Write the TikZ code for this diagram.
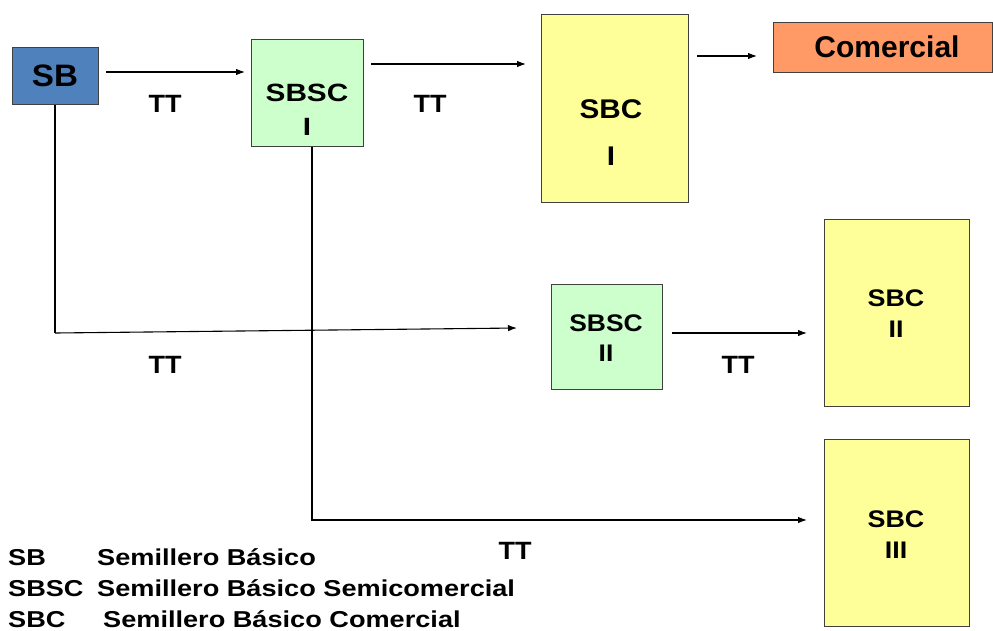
\documentclass[tikz,border=0pt]{standalone}
\usepackage{fontspec}
\usepackage{graphicx}
\setmainfont{Liberation Sans}
\usetikzlibrary{arrows.meta}
\definecolor{sbblue}{HTML}{4F81BD}
\definecolor{sbgreen}{HTML}{CCFFCC}
\definecolor{sbyellow}{HTML}{FFFF99}
\definecolor{sborange}{HTML}{FF9966}
\newcommand{\hsc}[2]{\scalebox{#1}[1]{#2}}
\tikzset{
  box/.style={draw=black!75, line width=0.9pt, inner sep=0pt, anchor=north west},
  lbl/.style={font=\bfseries\fontsize{#1}{#1}\selectfont, inner sep=0pt},
  arr/.style={-{Latex[length=9pt,width=6.5pt]}, line width=1.1pt},
  ln/.style={line width=1.1pt},
  leg/.style={font=\bfseries\fontsize{23}{23}\selectfont, inner sep=0pt, anchor=base west}
}
\begin{document}
\begin{tikzpicture}[x=1pt,y=-1pt]
\useasboundingbox (0,0) rectangle (993,630);
% boxes
\node[box, fill=sbblue, minimum width=86pt, minimum height=57pt] (sb) at (12,47) {};
\node[box, fill=sbgreen, minimum width=112pt, minimum height=107pt] (sbsc1) at (251,39) {};
\node[box, fill=sbyellow, minimum width=147pt, minimum height=188pt] (sbc1) at (541,14) {};
\node[box, fill=sborange, minimum width=219pt, minimum height=50pt] (com) at (773,22) {};
\node[box, fill=sbgreen, minimum width=111pt, minimum height=105pt] (sbsc2) at (551,284) {};
\node[box, fill=sbyellow, minimum width=145pt, minimum height=187pt] (sbc2) at (824,219) {};
\node[box, fill=sbyellow, minimum width=145pt, minimum height=187pt] (sbc3) at (824,439) {};
% box texts
\node[lbl=31] (tsb) at (55,76) {\hsc{1.07}{SB}};
\node[lbl=25] (tsbsc1a) at (307,93) {\hsc{1.19}{SBSC}};
\node[lbl=25] (tsbsc1b) at (307,127) {\hsc{1.19}{I}};
\node[lbl=27] (tsbc1a) at (611,109) {\hsc{1.1}{SBC}};
\node[lbl=27] (tsbc1b) at (611,156) {\hsc{1.1}{I}};
\node[lbl=30] (tcom) at (887,47) {Comercial};
\node[lbl=24] (tsbsc2a) at (606,323) {\hsc{1.1}{SBSC}};
\node[lbl=24] (tsbsc2b) at (606,353) {\hsc{1.1}{II}};
\node[lbl=24] (tsbc2a) at (896,298) {\hsc{1.12}{SBC}};
\node[lbl=24] (tsbc2b) at (896,329) {\hsc{1.12}{II}};
\node[lbl=24] (tsbc3a) at (896,519) {\hsc{1.12}{SBC}};
\node[lbl=24] (tsbc3b) at (896,550) {\hsc{1.12}{III}};
% TT labels
\node[lbl=25] (tt1) at (165,104) {\hsc{1.08}{TT}};
\node[lbl=25] (tt2) at (430,104) {\hsc{1.08}{TT}};
\node[lbl=25] (tt3) at (165,365) {\hsc{1.08}{TT}};
\node[lbl=25] (tt4) at (738,365) {\hsc{1.08}{TT}};
\node[lbl=25] (tt5) at (515,551) {\hsc{1.08}{TT}};
% connector coordinates
\coordinate (a1) at (106,72);
\coordinate (a2) at (371,64);
\coordinate (a3) at (697,56);
\coordinate (c1) at (55,333);
\coordinate (e1) at (517,328);
\coordinate (c2) at (312,520);
\coordinate (a4) at (672,333);
% arrows
\draw[arr] (a1) -- ([xshift=-6pt]a1 -| sbsc1.west);
\draw[arr] (a2) -- ([xshift=-15pt]a2 -| sbc1.west);
\draw[arr] (a3) -- ([xshift=-16pt]a3 -| com.west);
\draw[ln, line width=1.8pt] (sb.south -| c1) -- (c1);
\draw[arr] (c1) -- (e1);
\draw[arr] (sbsc1.south -| c2) -- (c2) -- ([xshift=-17pt]c2 -| sbc3.west);
\draw[arr] (a4) -- ([xshift=-17pt]a4 -| sbc2.west);
% legend
\node[leg] (l1) at (8,565) {\hsc{1.18}{SB}};
\node[leg] (l1t) at (97,565) {\hsc{1.18}{Semillero Básico}};
\node[leg] (l2) at (8,596) {\hsc{1.18}{SBSC}};
\node[leg] (l2t) at (97,596) {\hsc{1.18}{Semillero Básico Semicomercial}};
\node[leg] (l3) at (8,627) {\hsc{1.18}{SBC}};
\node[leg] (l3t) at (103,627) {\hsc{1.18}{Semillero Básico Comercial}};
\end{tikzpicture}
\end{document}
